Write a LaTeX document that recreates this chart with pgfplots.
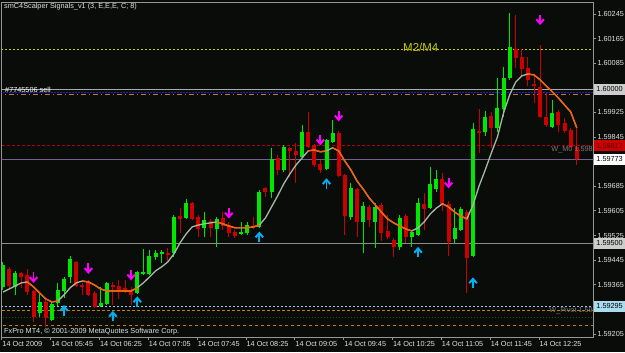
\documentclass[border=0pt]{standalone}
\usepackage{pgfplots}
\pgfplotsset{compat=1.18}
\usepackage{pgfplotstable}
\usepackage{fontspec}
\setmainfont{Liberation Sans}
\newcommand\fs{\fontsize{7.3bp}{8bp}\selectfont}
\definecolor{bg}{RGB}{10,12,10}
\definecolor{fr}{RGB}{150,150,150}
\definecolor{lbl}{RGB}{225,225,225}
\definecolor{cg}{RGB}{0,230,0}
\definecolor{cr}{RGB}{205,0,0}
\definecolor{mag}{RGB}{255,0,255}
\definecolor{cy}{RGB}{0,176,240}
\definecolor{magray}{RGB}{165,185,165}
\definecolor{maor}{RGB}{255,90,0}
\definecolor{yl}{RGB}{200,200,0}
\definecolor{gl}{RGB}{170,170,170}
\definecolor{gl2}{RGB}{140,140,140}
\definecolor{bl}{RGB}{30,30,220}
\definecolor{og}{RGB}{200,125,10}
\definecolor{rd}{RGB}{185,0,0}
\definecolor{lav}{RGB}{115,95,145}
\definecolor{lb}{RGB}{150,200,230}
\definecolor{dg}{RGB}{30,85,30}
\definecolor{boxg}{RGB}{205,205,205}
\definecolor{boxc}{RGB}{170,220,240}
\definecolor{wtx}{RGB}{120,120,120}

\pgfdeclareplotmark{dnarr}{%
  \pgfsetlinewidth{2pt}\pgfsetmiterjoin
  \pgfpathmoveto{\pgfqpoint{0pt}{5pt}}\pgfpathlineto{\pgfqpoint{0pt}{-3.5pt}}
  \pgfusepathqstroke
  \pgfpathmoveto{\pgfqpoint{-3.8pt}{0.3pt}}\pgfpathlineto{\pgfqpoint{0pt}{-4pt}}\pgfpathlineto{\pgfqpoint{3.8pt}{0.3pt}}
  \pgfusepathqstroke}
\pgfdeclareplotmark{uparr}{%
  \pgfsetlinewidth{2pt}\pgfsetmiterjoin
  \pgfpathmoveto{\pgfqpoint{0pt}{-5pt}}\pgfpathlineto{\pgfqpoint{0pt}{3.5pt}}
  \pgfusepathqstroke
  \pgfpathmoveto{\pgfqpoint{-3.8pt}{-0.3pt}}\pgfpathlineto{\pgfqpoint{0pt}{4pt}}\pgfpathlineto{\pgfqpoint{3.8pt}{-0.3pt}}
  \pgfusepathqstroke}

\pgfplotstableread{
i O H L C
0 1.59358 1.59439 1.59348 1.59429
2 1.59358 1.59410 1.59332 1.59403
6 1.59273 1.59338 1.59260 1.59309
8 1.59250 1.59309 1.59247 1.59302
9 1.59306 1.59371 1.59296 1.59348
10 1.59345 1.59390 1.59322 1.59384
11 1.59390 1.59458 1.59371 1.59449
16 1.59296 1.59358 1.59293 1.59306
17 1.59302 1.59374 1.59299 1.59371
22 1.59338 1.59410 1.59335 1.59406
23 1.59400 1.59481 1.59397 1.59406
24 1.59400 1.59478 1.59397 1.59458
25 1.59455 1.59478 1.59446 1.59468
26 1.59465 1.59478 1.59436 1.59471
28 1.59468 1.59592 1.59455 1.59585
30 1.59582 1.59644 1.59579 1.59631
33 1.59550 1.59601 1.59520 1.59575
35 1.59546 1.59585 1.59488 1.59579
39 1.59530 1.59569 1.59527 1.59537
40 1.59533 1.59569 1.59527 1.59559
42 1.59553 1.59673 1.59550 1.59667
44 1.59667 1.59810 1.59647 1.59774
46 1.59738 1.59819 1.59732 1.59813
49 1.59780 1.59884 1.59777 1.59862
53 1.59741 1.59839 1.59738 1.59836
54 1.59829 1.59901 1.59826 1.59858
57 1.59585 1.59696 1.59575 1.59680
59 1.59569 1.59634 1.59468 1.59621
61 1.59569 1.59631 1.59484 1.59618
65 1.59488 1.59592 1.59478 1.59582
67 1.59520 1.59543 1.59488 1.59537
68 1.59527 1.59647 1.59524 1.59631
70 1.59614 1.59748 1.59611 1.59693
71 1.59676 1.59738 1.59667 1.59709
74 1.59514 1.59614 1.59501 1.59550
75 1.59543 1.59618 1.59540 1.59611
77 1.59458 1.59891 1.59455 1.59871
79 1.59862 1.59930 1.59849 1.59910
81 1.59875 1.60037 1.59862 1.59940
82 1.59936 1.60073 1.59910 1.60037
83 1.60037 1.60248 1.60031 1.60138
90 1.59878 1.59966 1.59875 1.59923
}\greencandles

\pgfplotstableread{
i O H L C
1 1.59416 1.59423 1.59351 1.59361
3 1.59403 1.59406 1.59355 1.59390
4 1.59397 1.59416 1.59332 1.59341
5 1.59345 1.59348 1.59244 1.59260
7 1.59309 1.59315 1.59228 1.59257
12 1.59439 1.59442 1.59358 1.59361
13 1.59364 1.59371 1.59332 1.59358
14 1.59374 1.59380 1.59328 1.59332
15 1.59338 1.59345 1.59290 1.59293
18 1.59364 1.59374 1.59299 1.59358
19 1.59361 1.59380 1.59319 1.59345
20 1.59355 1.59380 1.59338 1.59341
21 1.59345 1.59358 1.59299 1.59332
27 1.59468 1.59484 1.59439 1.59462
29 1.59588 1.59614 1.59533 1.59579
31 1.59631 1.59634 1.59575 1.59579
32 1.59585 1.59592 1.59520 1.59546
34 1.59572 1.59579 1.59520 1.59550
36 1.59582 1.59601 1.59543 1.59556
37 1.59559 1.59569 1.59520 1.59533
38 1.59537 1.59543 1.59517 1.59524
41 1.59556 1.59585 1.59546 1.59550
43 1.59680 1.59683 1.59650 1.59667
45 1.59777 1.59787 1.59722 1.59738
47 1.59810 1.59813 1.59715 1.59800
48 1.59800 1.59826 1.59696 1.59787
50 1.59862 1.59927 1.59810 1.59813
51 1.59819 1.59823 1.59748 1.59754
52 1.59758 1.59771 1.59728 1.59738
55 1.59858 1.59865 1.59715 1.59719
56 1.59722 1.59725 1.59527 1.59588
58 1.59676 1.59680 1.59520 1.59569
60 1.59618 1.59624 1.59553 1.59575
62 1.59624 1.59631 1.59507 1.59533
63 1.59540 1.59592 1.59514 1.59520
64 1.59511 1.59517 1.59455 1.59488
66 1.59588 1.59595 1.59501 1.59520
69 1.59628 1.59663 1.59543 1.59611
72 1.59709 1.59728 1.59605 1.59628
73 1.59628 1.59637 1.59458 1.59504
76 1.59601 1.59608 1.59338 1.59452
78 1.59865 1.59936 1.59793 1.59858
80 1.59914 1.59927 1.59810 1.59875
84 1.60131 1.60242 1.60070 1.60102
85 1.60105 1.60131 1.60047 1.60066
86 1.60070 1.60105 1.60011 1.60031
87 1.60018 1.60050 1.59956 1.60011
88 1.60008 1.60144 1.59907 1.59910
89 1.59910 1.59988 1.59878 1.59884
91 1.59927 1.59933 1.59862 1.59884
92 1.59891 1.59907 1.59858 1.59865
93 1.59868 1.59875 1.59810 1.59813
94 1.59813 1.59875 1.59754 1.59773
}\redcandles

\pgfplotstableread{
i m
0 1.59341
1 1.59351
2 1.59361
3 1.59371
4 1.59374
5 1.59358
6 1.59338
7 1.59319
8 1.59309
9 1.59312
10 1.59332
11 1.59355
12 1.59371
13 1.59377
14 1.59374
15 1.59364
16 1.59351
17 1.59345
18 1.59345
19 1.59345
20 1.59345
21 1.59345
22 1.59355
23 1.59371
24 1.59390
25 1.59410
26 1.59423
27 1.59439
28 1.59465
29 1.59501
30 1.59530
31 1.59553
32 1.59559
33 1.59563
34 1.59566
35 1.59569
36 1.59563
37 1.59556
38 1.59550
39 1.59550
40 1.59550
41 1.59553
42 1.59559
43 1.59582
44 1.59618
45 1.59654
46 1.59693
47 1.59725
48 1.59754
49 1.59777
50 1.59800
51 1.59803
52 1.59797
53 1.59800
54 1.59810
55 1.59800
56 1.59767
57 1.59738
58 1.59702
59 1.59676
60 1.59647
61 1.59624
62 1.59601
63 1.59579
64 1.59566
65 1.59556
66 1.59546
67 1.59540
68 1.59550
69 1.59569
70 1.59595
71 1.59614
72 1.59628
73 1.59618
74 1.59601
75 1.59588
76 1.59579
77 1.59624
78 1.59686
79 1.59738
80 1.59793
81 1.59845
82 1.59923
83 1.59982
84 1.60024
85 1.60044
86 1.60050
87 1.60047
88 1.60031
89 1.60011
90 1.59992
91 1.59972
92 1.59949
93 1.59927
94 1.59875
}\matable

\begin{document}
\begin{tikzpicture}[x=1bp,y=1bp]
\fill[bg] (0,0) rectangle (625,352);
\begin{axis}[
  at={(1.7bp,15bp)}, anchor=south west,
  scale only axis, width=591.6bp, height=335bp,
  xmin=-0.21, xmax=96.71, ymin=1.59195, ymax=1.60284,
  axis background/.style={fill=bg},
  axis line style={draw=fr, line width=0.8bp},
  tick style={draw=fr, line width=0.8bp},
  tick align=outside, major tick length=3bp,
  xtick pos=bottom, ytick pos=right, yticklabel pos=right,
  xtick={-0.2,7.8,15.8,23.8,31.8,39.8,47.8,55.8,63.8,71.8,79.8,87.8},
  xticklabels={14 Oct 2009,14 Oct 05:45,14 Oct 06:25,14 Oct 07:05,14 Oct 07:45,14 Oct 08:25,14 Oct 09:05,14 Oct 09:45,14 Oct 10:25,14 Oct 11:05,14 Oct 11:45,14 Oct 12:25},
  ytick={1.59205,1.59365,1.59445,1.59525,1.59605,1.59685,1.59845,1.59925,1.60085,1.60165,1.60245},
  yticklabels={1.59205,1.59365,1.59445,1.59525,1.59605,1.59685,1.59845,1.59925,1.60085,1.60165,1.60245},
  x tick label style={anchor=north west, font=\fs, text=lbl, inner sep=1bp, xshift=-0.5bp},
  y tick label style={anchor=west, font=\fs, text=lbl, inner sep=1bp},
  scaled y ticks=false,
  clip=true,
]
% horizontal level lines
\addplot[yl, line width=0.8bp, dash pattern=on 2bp off 2bp] coordinates {(-1,1.60131) (98,1.60131)};
\addplot[gl, line width=1bp] coordinates {(-1,1.60000) (98,1.60000)};
\addplot[bl, line width=1bp, dash pattern=on 2bp off 1bp] coordinates {(-1,1.59991) (98,1.59991)};
\addplot[og, line width=1bp, dash pattern=on 5bp off 3bp on 1bp off 3bp] coordinates {(-1,1.59982) (98,1.59982)};
\addplot[rd, line width=0.8bp, dash pattern=on 3bp off 2bp] coordinates {(-1,1.59817) (98,1.59817)};
\addplot[lav, line width=1bp] coordinates {(-1,1.59773) (98,1.59773)};
\addplot[gl2, line width=1bp] coordinates {(-1,1.59500) (98,1.59500)};
\addplot[lb, line width=0.8bp, dash pattern=on 2bp off 2bp] coordinates {(-1,1.59295) (98,1.59295)};
\addplot[og, line width=0.8bp, dash pattern=on 3bp off 2bp] coordinates {(-1,1.59281) (98,1.59281)};
\addplot[dg, line width=0.8bp, dash pattern=on 1bp off 2bp] coordinates {(-1,1.59260) (98,1.59260)};
\addplot[og, line width=0.8bp, dash pattern=on 3bp off 3bp] coordinates {(-1,1.59234) (98,1.59234)};
% wicks
\addplot[draw=none, mark=none, error bars/.cd, y dir=plus, y explicit, error mark=none,
  error bar style={draw=cg, line width=1bp}]
  table[x=i, y=L, y error expr=\thisrow{H}-\thisrow{L}] {\greencandles};
\addplot[draw=none, mark=none, error bars/.cd, y dir=plus, y explicit, error mark=none,
  error bar style={draw=cr, line width=1bp}]
  table[x=i, y=L, y error expr=\thisrow{H}-\thisrow{L}] {\redcandles};
% bodies
\addplot[draw=none, mark=none, error bars/.cd, y dir=plus, y explicit, error mark=none,
  error bar style={draw=cg, line width=4bp}]
  table[x=i, y=O, y error expr=\thisrow{C}-\thisrow{O}] {\greencandles};
\addplot[draw=none, mark=none, error bars/.cd, y dir=plus, y explicit, error mark=none,
  error bar style={draw=cr, line width=4bp}]
  table[x=i, y=C, y error expr=\thisrow{O}-\thisrow{C}] {\redcandles};
% moving average
\addplot[magray, line width=1.3bp] table[x=i, y=m] {\matable};
\addplot[maor, line width=1.3bp, restrict x to domain=4:9] table[x=i, y=m] {\matable};
\addplot[maor, line width=1.3bp, restrict x to domain=13:22] table[x=i, y=m] {\matable};
\addplot[maor, line width=1.3bp, restrict x to domain=35:42] table[x=i, y=m] {\matable};
\addplot[maor, line width=1.3bp, restrict x to domain=50:53] table[x=i, y=m] {\matable};
\addplot[maor, line width=1.3bp, restrict x to domain=54:67] table[x=i, y=m] {\matable};
\addplot[maor, line width=1.3bp, restrict x to domain=72:76] table[x=i, y=m] {\matable};
\addplot[maor, line width=1.3bp, restrict x to domain=86:94] table[x=i, y=m] {\matable};
% signal arrows
\addplot[only marks, mark=dnarr, mag] coordinates {(5,1.59389) (14,1.59418) (21,1.59397) (37,1.59598) (52,1.59836) (55,1.59914) (73,1.59696) (88,1.60227)};
\addplot[only marks, mark=uparr, cy] coordinates {(10,1.59281) (18,1.59262) (22,1.59309) (42,1.59520) (53,1.59693) (68,1.59470) (77,1.59371)};
\coordinate (b1) at (axis cs:96.71,1.60000);
\coordinate (b2) at (axis cs:96.71,1.59817);
\coordinate (b3) at (axis cs:96.71,1.59773);
\coordinate (b4) at (axis cs:96.71,1.59500);
\coordinate (b5) at (axis cs:96.71,1.59295);
\end{axis}
% price boxes
\tikzset{pbox/.style={anchor=west, minimum width=31bp, minimum height=11bp, inner sep=0pt, font=\fs, xshift=0.6bp}}
\node[pbox, fill=boxg, text=black] at (b1) {1.60000};
\node[pbox, fill=cr, text=red!35!black] at (b2) {1.59817};
\node[pbox, fill=white, text=black] at (b3) {1.59773};
\node[pbox, fill=boxg, text=black] at (b4) {1.59500};
\node[pbox, fill=boxc, text=black] at (b5) {1.59295};
% texts
\node[anchor=west, text=lbl, font=\fs, inner sep=0pt] at (4,345) {smC4Scalper Signals\_v1 (3, E,E,E, C; 8)};
\node[anchor=west, text=white, font=\fs, inner sep=0pt] at (5,262.5) {\#7745506 sell};
\node[anchor=west, text=yl, font=\fontsize{11.5bp}{12bp}\selectfont, inner sep=0pt] at (403,304.5) {M2/M4};
\node[anchor=east, text=wtx, font=\fs, inner sep=0pt] at (593,202) {W\_M0 1.598};
\node[anchor=east, text=wtx, font=\fs, inner sep=0pt] at (593,41) {W\_Pivot 1.59};
\node[anchor=west, text=lbl, font=\fs, inner sep=0pt] at (4,20) {FxPro MT4, © 2001-2009 MetaQuotes Software Corp.};
\pgfresetboundingbox
\path[use as bounding box] (0,0) rectangle (625,352);
\end{tikzpicture}
\end{document}
